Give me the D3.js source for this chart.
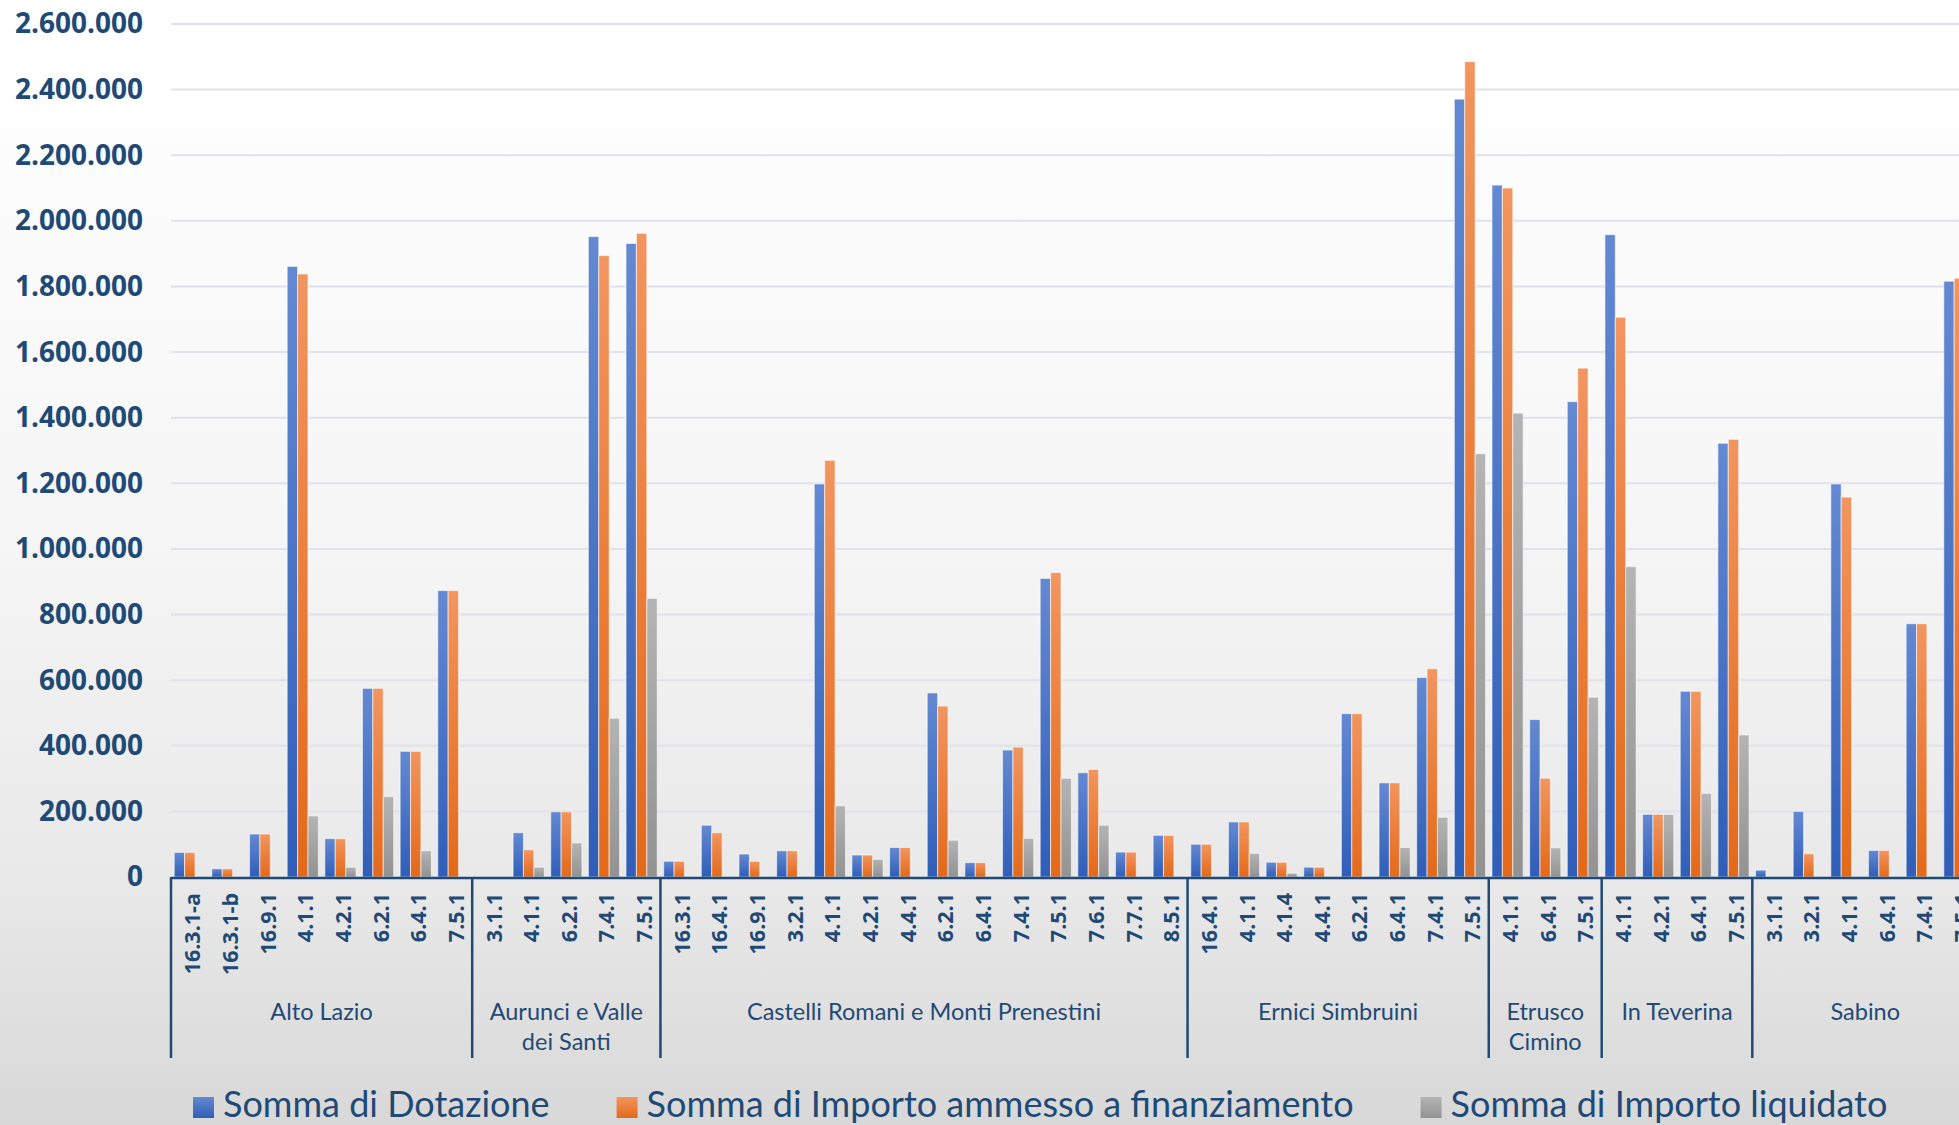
<!DOCTYPE html>
<html><head><meta charset="utf-8">
<script src="https://cdn.jsdelivr.net/npm/d3@7"></script>
<style>html,body{margin:0;padding:0;overflow:hidden;background:#fff}</style>
</head><body><svg id="chart" width="1959" height="1125"></svg>
<script>
// ---------- DATA ----------
const groupNames = ["Alto Lazio", "Aurunci e Valle dei Santi", "Castelli Romani e Monti Prenestini",
  "Ernici Simbruini", "Etrusco Cimino", "In Teverina", "Sabino"];
const groupCodes = [
  ["16.3.1-a","16.3.1-b","16.9.1","4.1.1","4.2.1","6.2.1","6.4.1","7.5.1"],
  ["3.1.1","4.1.1","6.2.1","7.4.1","7.5.1"],
  ["16.3.1","16.4.1","16.9.1","3.2.1","4.1.1","4.2.1","4.4.1","6.2.1","6.4.1","7.4.1","7.5.1","7.6.1","7.7.1","8.5.1"],
  ["16.4.1","4.1.1","4.1.4","4.4.1","6.2.1","6.4.1","7.4.1","7.5.1"],
  ["4.1.1","6.4.1","7.5.1"],
  ["4.1.1","4.2.1","6.4.1","7.5.1"],
  ["3.1.1","3.2.1","4.1.1","6.4.1","7.4.1","7.5.1"]
];
const dotazione = [
  75000, 25000, 131000, 1861000, 117000, 575000, 383000, 873000,
  0, 135000, 199000, 1952000, 1931000,
  48000, 158000, 70000, 80000, 1198000, 67000, 90000, 561000, 44000, 387000, 910000, 318000, 76000, 127000,
  100000, 168000, 45000, 30000, 498000, 287000, 608000, 2371000,
  2109000, 480000, 1449000,
  1958000, 191000, 566000, 1322000,
  21000, 200000, 1198000, 81000, 772000, 1816000
];
const ammesso = [
  75000, 25000, 131000, 1838000, 117000, 575000, 383000, 873000,
  0, 83000, 199000, 1894000, 1962000,
  48000, 135000, 48000, 80000, 1270000, 67000, 90000, 521000, 44000, 396000, 928000, 328000, 76000, 127000,
  100000, 168000, 45000, 30000, 498000, 287000, 635000, 2485000,
  2100000, 301000, 1551000,
  1706000, 191000, 566000, 1334000,
  0, 71000, 1158000, 81000, 772000, 1825000
];
const liquidato = [
  0, 0, 0, 186000, 30000, 245000, 80000, 0,
  0, 30000, 104000, 484000, 849000,
  0, 0, 0, 0, 217000, 54000, 0, 112000, 0, 118000, 301000, 158000, 0, 0,
  0, 72000, 12000, 0, 0, 90000, 182000, 1290000,
  1414000, 89000, 548000,
  946000, 191000, 255000, 433000,
  0, 0, 0, 0, 0, 0
];
const seriesNames = ["Somma di Dotazione", "Somma di Importo ammesso a finanziamento", "Somma di Importo liquidato"];
const yTicks = [0,200000,400000,600000,800000,1000000,1200000,1400000,1600000,1800000,2000000,2200000,2400000,2600000];

// ---------- LAYOUT ----------
const W = 1959, H = 1125;
const plotLeft = 171, catStep = 37.65, yZero = 877, yTop = 24;
const textColor = "#1f4a76";
const svg = d3.select("#chart");

const cats = [];
groupCodes.forEach((codes, gi) => codes.forEach(c => cats.push({key: gi + "|" + c, code: c, group: gi})));
const values = [dotazione, ammesso, liquidato];

const x0 = d3.scaleBand().domain(cats.map(d => d.key))
  .range([plotLeft, plotLeft + cats.length * catStep]).paddingInner(0).paddingOuter(0);
const x1 = d3.scaleBand().domain([0,1,2]).range([0, x0.bandwidth()]).paddingInner(0).paddingOuter(0.31);
const y = d3.scaleLinear().domain([0, 2600000]).range([yZero, yTop]);

const defs = svg.append("defs");
const bg = defs.append("linearGradient").attr("id","bg").attr("x1",0).attr("y1",0).attr("x2",0).attr("y2",1);
[["0%","#fdfdfd"],["40%","#f6f6f6"],["75%","#e9e9e9"],["100%","#d8d8d8"]]
  .forEach(s => bg.append("stop").attr("offset", s[0]).attr("stop-color", s[1]));
const barColors = [["#6489d2","#2f5eb8"],["#f2955f","#e3691a"],["#b4b4b4","#929292"]];
barColors.forEach((c, i) => {
  const g = defs.append("linearGradient").attr("id","bar"+i).attr("x1",0).attr("y1",0).attr("x2",0).attr("y2",1);
  g.append("stop").attr("offset","0%").attr("stop-color", c[0]);
  g.append("stop").attr("offset","100%").attr("stop-color", c[1]);
});

svg.append("rect").attr("x",0).attr("y",0).attr("width",W).attr("height",H).attr("fill","#ffffff");
svg.append("rect").attr("x",0).attr("y",128).attr("width",W).attr("height",H-128).attr("fill","url(#bg)");

svg.append("g").selectAll("line").data(yTicks.filter(t => t > 0)).join("line")
  .attr("x1", plotLeft).attr("x2", W + 40)
  .attr("y1", d => y(d)).attr("y2", d => y(d))
  .attr("stroke", "#dfe2e9").attr("stroke-width", 2);

const locale = d3.formatLocale({decimal: ",", thousands: ".", grouping: [3], currency: ["", "€"]});
const fmt = locale.format(",");
const yAxis = svg.append("g").attr("transform", `translate(${plotLeft},0)`)
  .call(d3.axisLeft(y).tickValues(yTicks).tickFormat(fmt).tickSize(0).tickPadding(28));
yAxis.select(".domain").remove();
yAxis.selectAll("text").attr("font-family", "'Open Sans', sans-serif").attr("font-weight", 700)
  .attr("font-size", "28px").attr("fill", textColor);

const catG = svg.append("g").selectAll("g").data(cats).join("g")
  .attr("transform", d => `translate(${x0(d.key)},0)`);
catG.selectAll("rect").data(d => [0,1,2].map(s => ({s, v: values[s][cats.indexOf(d)]})).filter(e => e.v > 0))
  .join("rect")
  .attr("x", e => x1(e.s)).attr("width", x1.bandwidth())
  .attr("y", e => y(e.v)).attr("height", e => yZero - y(e.v))
  .attr("fill", e => `url(#bar${e.s})`)
  .attr("stroke", "rgba(255,255,255,0.55)").attr("stroke-width", 1.1);

const axisColor = "#1f4a76";
svg.append("line").attr("x1", plotLeft).attr("x2", W + 40).attr("y1", yZero + 1).attr("y2", yZero + 1)
  .attr("stroke", axisColor).attr("stroke-width", 2.5);

svg.append("g").selectAll("text").data(cats).join("text")
  .attr("transform", d => `translate(${x0(d.key) + x0.bandwidth()/2 + 2},893) rotate(-90)`)
  .attr("text-anchor", "end").attr("dominant-baseline", "central")
  .attr("font-family", "'Open Sans', sans-serif").attr("font-weight", 700).attr("font-size", "21.5px")
  .attr("fill", textColor).text(d => d.code);

let start = 0;
const bounds = [];
groupCodes.forEach((codes, gi) => {
  const first = cats[start].key, last = cats[start + codes.length - 1].key;
  bounds.push({gi, x0: x0(first), x1: x0(last) + x0.bandwidth()});
  start += codes.length;
});
const sepXs = [bounds[0].x0].concat(bounds.map(b => b.x1));
svg.append("g").selectAll("line").data(sepXs).join("line")
  .attr("x1", d => d).attr("x2", d => d).attr("y1", yZero).attr("y2", 1058)
  .attr("stroke", axisColor).attr("stroke-width", 2.5);

const gl = svg.append("g");
bounds.forEach(b => {
  const cx = (b.x0 + b.x1) / 2;
  const maxW = (b.x1 - b.x0) - 22;
  const t = gl.append("text").attr("x", cx).attr("y", 1020).attr("text-anchor", "middle")
    .attr("font-family", "Lato, sans-serif").attr("font-size", "23.5px").attr("fill", textColor);
  const words = groupNames[b.gi].split(" ");
  let line = [], lineNo = 0;
  let ts = t.append("tspan").attr("x", cx).attr("y", 1020);
  words.forEach(w => {
    line.push(w);
    ts.text(line.join(" "));
    if (ts.node().getComputedTextLength() > maxW && line.length > 1) {
      line.pop(); ts.text(line.join(" "));
      line = [w]; lineNo++;
      ts = t.append("tspan").attr("x", cx).attr("y", 1020 + lineNo * 30).text(w);
    }
  });
});

const legend = svg.append("g");
let lx = 193;
seriesNames.forEach((name, i) => {
  legend.append("rect").attr("x", lx).attr("y", 1097).attr("width", 21).attr("height", 21)
    .attr("fill", `url(#bar${i})`);
  const t = legend.append("text").attr("x", lx + 30).attr("y", 1117)
    .attr("font-family", "Lato, sans-serif").attr("font-size", "36px").attr("fill", textColor).text(name);
  lx += 30 + t.node().getComputedTextLength() + 67;
});
</script>
</body></html>
